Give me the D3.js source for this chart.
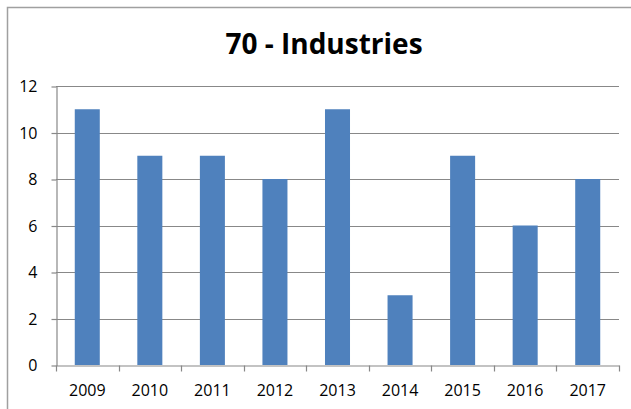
<!DOCTYPE html>
<html>
<head>
<meta charset="utf-8">
<script src="https://cdn.jsdelivr.net/npm/d3@7"></script>
<style>
  body { margin: 0; background: #fff; }
  text { font-family: "Open Sans", sans-serif; fill: #000; }
  .axis .domain { stroke: #888; stroke-width: 1.2; }
  .axis .tick line { stroke: #888; stroke-width: 1.2; }
  .axis text { font-size: 16px; }
</style>
</head>
<body>
<div id="chart"></div>
<script>
      var w = 631;
      var h = 409;

      // data
      var years = ['2009','2010','2011','2012','2013','2014','2015','2016','2017'];
      var counts = [11, 9, 9, 8, 11, 3, 9, 6, 8];
      var yTicks = [0, 2, 4, 6, 8, 10, 12];

      var dataset = years.map(function(y, i) { return {year: y, value: counts[i]}; });

      var plotLeft = 56, plotRight = 619, plotTop = 86, plotBottom = 365;

      var xScale = d3.scaleBand()
                 .domain(years)
                 .range([plotLeft, plotRight])
                 .paddingInner(0.6)
                 .paddingOuter(0.3);

      var yScale = d3.scaleLinear()
                 .domain([0, 12])
                 .range([plotBottom, plotTop]);

      var svg = d3.select("#chart")
            .append("svg")
            .attr("width", w)
            .attr("height", h);

      // chart border
      svg.append("rect")
        .attr("x", 7.5)
        .attr("y", 7.5)
        .attr("width", w + 10)
        .attr("height", h + 10)
        .style("fill", "none")
        .style("stroke", "#a0a0a0")
        .style("stroke-width", 1.5);

      // title
      svg.append("text")
        .attr("x", 324)
        .attr("y", 54)
        .attr("text-anchor", "middle")
        .style("font-size", "28px")
        .style("font-weight", "bold")
        .text("70 - Industries");

      // gridlines
      svg.selectAll(".grid")
        .data(yTicks.filter(function(d) { return d > 0; }))
        .enter().append("line")
        .attr("class", "grid")
        .attr("x1", plotLeft)
        .attr("x2", plotRight)
        .attr("y1", function(d) { return Math.round(yScale(d)) + 0.5; })
        .attr("y2", function(d) { return Math.round(yScale(d)) + 0.5; })
        .style("stroke", "#888")
        .style("stroke-width", 1.2);

      // bars
      svg.selectAll(".bar")
        .data(dataset)
        .enter().append("rect")
        .attr("class", "bar")
        .attr("x", function(d) { return xScale(d.year); })
        .attr("width", xScale.bandwidth())
        .attr("y", function(d) { return yScale(d.value); })
        .attr("height", function(d) { return plotBottom - yScale(d.value); })
        .style("fill", "#4f81bd");

      // y axis
      var yAxis = d3.axisLeft(yScale)
                .tickValues(yTicks)
                .tickSize(5)
                .tickPadding(14)
                .tickSizeOuter(0);

      svg.append("g")
        .attr("class", "axis")
        .attr("transform", "translate(" + (plotLeft + 0.5) + ",0.5)")
        .call(yAxis);

      // x axis with tick marks between categories
      var xAxis = d3.axisBottom(xScale)
                .tickSize(0)
                .tickPadding(19);

      var gx = svg.append("g")
        .attr("class", "axis")
        .attr("transform", "translate(0," + (plotBottom + 0.5) + ")")
        .call(xAxis);

      var step = (plotRight - plotLeft) / years.length;
      gx.selectAll(".sep")
        .data(d3.range(years.length + 1))
        .enter().append("line")
        .attr("class", "sep")
        .attr("x1", function(i) { return Math.round(plotLeft + i * step) + 0.5; })
        .attr("x2", function(i) { return Math.round(plotLeft + i * step) + 0.5; })
        .attr("y1", 0)
        .attr("y2", 6)
        .style("stroke", "#888")
        .style("stroke-width", 1.2);
</script>
</body>
</html>
